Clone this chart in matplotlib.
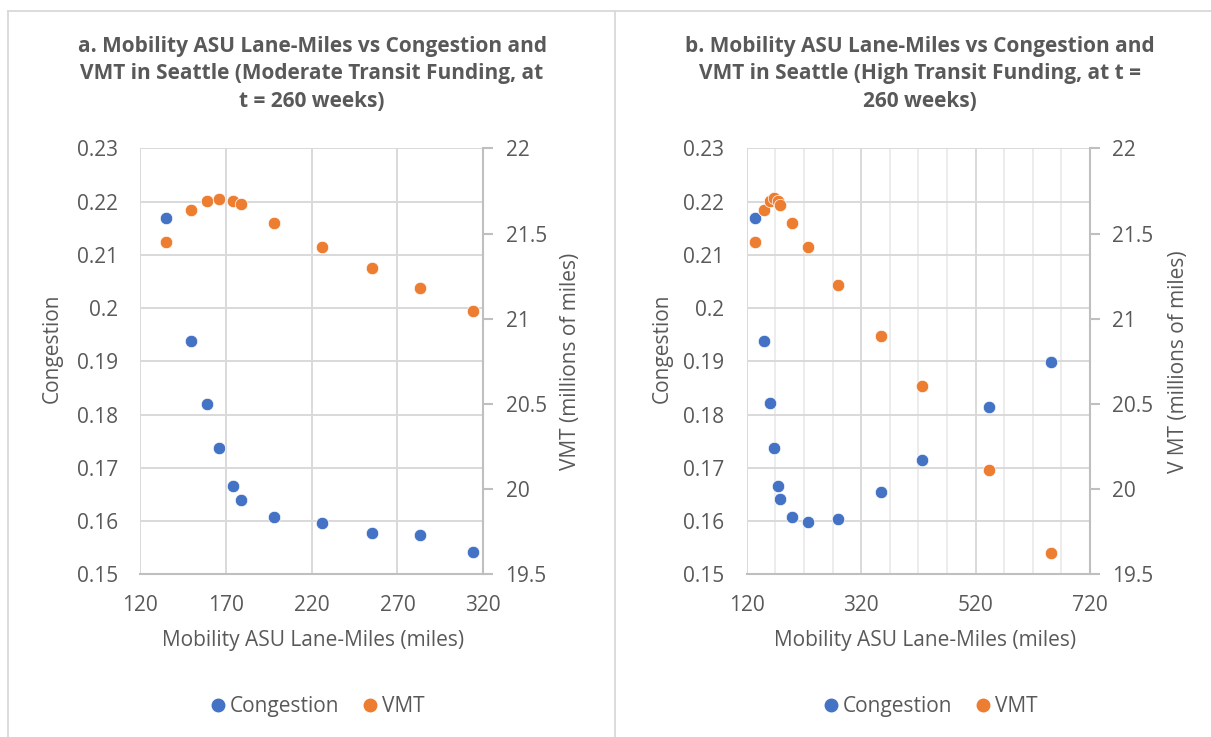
import matplotlib
matplotlib.use("Agg")
import matplotlib.pyplot as plt
from matplotlib.lines import Line2D
from matplotlib.ticker import FixedLocator

plt.rcParams['font.family'] = ['Open Sans', 'DejaVu Sans']

# ---- data ----
lane_miles_a = [135, 150, 159, 166, 174, 179, 198, 226, 255, 283, 314]
congestion_a = [0.2170, 0.1938, 0.1820, 0.1737, 0.1665, 0.1640, 0.1607, 0.1596, 0.1578, 0.1573, 0.1541]
vmt_a = [21.448, 21.638, 21.691, 21.701, 21.691, 21.671, 21.563, 21.423, 21.296, 21.180, 21.043]

lane_miles_b = [135, 150, 160, 167, 175, 179, 199, 227, 280, 354, 427, 543, 651]
congestion_b = [0.2170, 0.1939, 0.1822, 0.1738, 0.1666, 0.1641, 0.1608, 0.1598, 0.1603, 0.1655, 0.1714, 0.1814, 0.1899]
vmt_b = [21.448, 21.638, 21.691, 21.707, 21.691, 21.667, 21.563, 21.423, 21.196, 20.900, 20.607, 20.110, 19.627]

titles = ["a. Mobility ASU Lane-Miles vs Congestion and\nVMT in Seattle (Moderate Transit Funding, at\nt = 260 weeks)",
          "b. Mobility ASU Lane-Miles vs Congestion and\nVMT in Seattle (High Transit Funding, at t =\n260 weeks)"]
xlabel = "Mobility ASU Lane-Miles (miles)"
ylabel_left = "Congestion"
ylabels_right = ["VMT (millions of miles)", "V MT (millions of miles)"]
xticks_a = [120, 170, 220, 270, 320]
xticks_b = [120, 320, 520, 720]
xticks_b_minor = [170, 220, 270, 370, 420, 470, 570, 620, 670]
yticks_left = [0.15, 0.16, 0.17, 0.18, 0.19, 0.20, 0.21, 0.22, 0.23]
yticks_right = [19.5, 20, 20.5, 21, 21.5, 22]

BLUE = "#4472C4"
ORANGE = "#ED7D31"
TXT = "#595959"
GRID = "#d9d9d9"
MINOR = "#ebebeb"
AX = "#bfbfbf"
FS = 15

W, H = 1211, 737
fig = plt.figure(figsize=(W / 100, H / 100), dpi=100)

# panel borders
def fline(xs, ys):
    fig.add_artist(Line2D([x / W for x in xs], [1 - y / H for y in ys],
                          transform=fig.transFigure, color=GRID, lw=1.3))
fline([8, 8], [11, 740])
fline([8, 1215], [11, 11])
fline([615, 615], [11, 740])

def fmt_left(v):
    s = f"{v:.2f}"
    return s.rstrip('0') if s.endswith('0') else s

def fmt_right(v):
    return f"{v:g}"

panels = [
    # left px, x, congestion, vmt, xticks, minor ticks, title x, legend x, xlabel x, left label x, right label x
    (140, lane_miles_a, congestion_a, vmt_a, xticks_a, [], 312, 0.513, 0.505, -0.224, 1.223),
    (746.7, lane_miles_b, congestion_b, vmt_b, xticks_b, xticks_b_minor, 920, 0.531, 0.52, -0.215, 1.227),
]

for i, (left_px, xs, cong, vmt, xt, minor, title_x, leg_x, xl_x, yl_x, yr_x) in enumerate(panels):
    ax = fig.add_axes([left_px / W, (H - 574.3) / H, 343.3 / W, 426 / H])
    ax2 = ax.twinx()
    ax.set_xlim(xt[0], xt[-1])
    ax.set_ylim(0.15, 0.23)
    ax2.set_ylim(19.5, 22)
    ax.xaxis.set_major_locator(FixedLocator(xt))
    ax.yaxis.set_major_locator(FixedLocator(yticks_left))
    ax2.yaxis.set_major_locator(FixedLocator(yticks_right))
    ax.set_axisbelow(True)
    # light minor vertical gridlines (panel b)
    for m in minor:
        ax.axvline(m, color=MINOR, lw=1.3, zorder=0.4)
    ax.grid(True, which='major', axis='both', color=GRID, lw=1.4)
    ax.set_xticklabels([str(v) for v in xt])
    ax.set_yticklabels([fmt_left(v) for v in yticks_left])
    ax2.set_yticklabels([fmt_right(v) for v in yticks_right])

    for a in (ax, ax2):
        for s in a.spines.values():
            s.set_visible(False)
    ax.spines['bottom'].set_visible(True)
    ax.spines['bottom'].set_color(AX)
    ax.spines['bottom'].set_linewidth(1.5)
    ax2.spines['right'].set_visible(True)
    ax2.spines['right'].set_color(AX)
    ax2.spines['right'].set_linewidth(1.5)

    ax.tick_params(axis='x', length=0, pad=15, labelsize=FS, labelcolor=TXT)
    ax.tick_params(axis='y', length=0, pad=16, labelsize=FS, labelcolor=TXT)
    ax2.tick_params(axis='y', length=7, width=1.5, color=AX, pad=9, labelsize=FS, labelcolor=TXT)

    ax.scatter(xs, cong, s=80, color=BLUE, edgecolors='white', linewidths=0.5, zorder=3, clip_on=False)
    ax2.scatter(xs, vmt, s=80, color=ORANGE, edgecolors='white', linewidths=0.5, zorder=3, clip_on=False)

    ax.set_xlabel(xlabel, fontsize=FS, color=TXT)
    ax.xaxis.set_label_coords(xl_x, -0.131)
    ax.set_ylabel(ylabel_left, fontsize=FS, color=TXT)
    ax.yaxis.set_label_coords(yl_x, 0.53)
    ax2.set_ylabel(ylabels_right[i], fontsize=FS, color=TXT, rotation=90)
    ax2.yaxis.set_label_coords(yr_x, 0.5)

    fig.text(title_x / W, 1 - 74 / H, titles[i], ha='center', va='center',
             fontsize=FS, fontweight='bold', color=TXT, linespacing=1.38)

    handles = [Line2D([], [], ls='', marker='o', markersize=9, color=BLUE, label='Congestion'),
               Line2D([], [], ls='', marker='o', markersize=9, color=ORANGE, label='VMT')]
    leg = ax.legend(handles=handles, loc='center', bbox_to_anchor=(leg_x, -0.311), ncol=2,
                    frameon=False, fontsize=FS, handletextpad=0.1, columnspacing=0.95,
                    handlelength=1.0)
    for t in leg.get_texts():
        t.set_color(TXT)

fig.savefig("out.png", dpi=100, facecolor='white')
